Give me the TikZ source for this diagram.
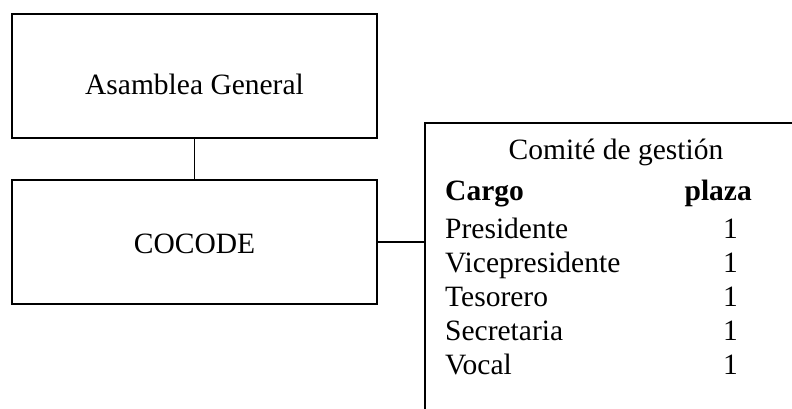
\documentclass[tikz,border=0pt]{standalone}
\usepackage{fontspec}
\setmainfont{Liberation Serif}
\begin{document}
\begin{tikzpicture}[x=1pt,y=-1pt,
  box/.style={draw,line width=2.4pt,rectangle,inner sep=0pt},
  lbl/.style={inner sep=0pt,font=\fontsize{29.5}{34}\selectfont},
  conn/.style={line width=1.8pt}]
\useasboundingbox (0,0) rectangle (792,409);
\clip (0,0) rectangle (792,409);
\node[box,minimum width=365pt,minimum height=124pt] (asamblea) at (194.5,76) {};
\node[box,minimum width=365pt,minimum height=124pt] (cocode) at (194.5,242) {};
\node[lbl,anchor=base] (asamblea-t) at (194.5,95) {Asamblea General};
\node[lbl,anchor=base] (cocode-t) at (194.5,253) {COCODE};
\node[box,minimum width=390pt,minimum height=320pt,anchor=north west] (comite) at (424,122) {};
\node[lbl,anchor=base] (titulo) at (616,160) {Comité de gestión};
\node[lbl,anchor=base west,font=\fontsize{29.5}{34}\selectfont\bfseries] (cargo) at (445,200) {Cargo};
\node[lbl,anchor=base east,font=\fontsize{29.5}{34}\selectfont\bfseries] (plaza) at (752,200) {plaza};
\node[lbl,anchor=base west] (r1) at (445,238) {Presidente};
\node[lbl,anchor=base west] (r2) at (445,272) {Vicepresidente};
\node[lbl,anchor=base west] (r3) at (445,306) {Tesorero};
\node[lbl,anchor=base west] (r4) at (445,340) {Secretaria};
\node[lbl,anchor=base west] (r5) at (445,374) {Vocal};
\node[lbl,anchor=base east] (n1) at (738,238) {1};
\node[lbl,anchor=base east] (n2) at (738,272) {1};
\node[lbl,anchor=base east] (n3) at (738,306) {1};
\node[lbl,anchor=base east] (n4) at (738,340) {1};
\node[lbl,anchor=base east] (n5) at (738,374) {1};
\draw[conn] (asamblea.south) -- (cocode.north);
\draw[conn] (cocode.east) -- (cocode.east -| comite.west);
\end{tikzpicture}
\end{document}
